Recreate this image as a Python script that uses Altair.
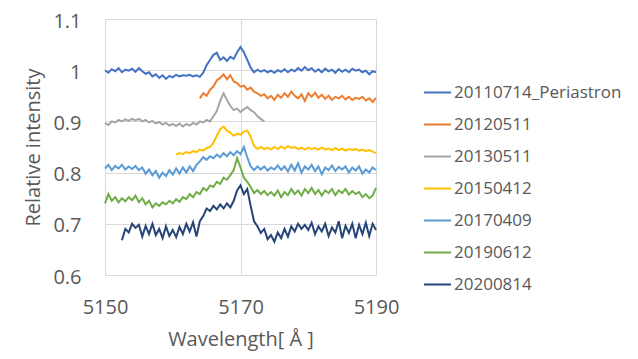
import altair as alt
import pandas as pd

series_names = ["20110714_Periastron", "20120511", "20130511", "20150412",
                "20170409", "20190612", "20200814"]
colors = ["#4472C4", "#ED7D31", "#A5A5A5", "#FFC000", "#5B9BD5", "#70AD47", "#264478"]
starts = [5150.0, 5164.0, 5150.0, 5160.5, 5150.0, 5150.0, 5152.5]
step = 0.5

s_2011 = [1.000, 0.995, 1.002, 0.998, 1.004, 0.996, 1.001, 0.999, 1.003, 0.997,
          1.004, 0.998, 0.993, 0.996, 0.988, 0.992, 0.985, 0.990, 0.983, 0.989,
          0.986, 0.991, 0.988, 0.990, 0.989, 0.991, 0.988, 0.990, 0.987, 0.995,
          1.010, 1.020, 1.030, 1.034, 1.020, 1.025, 1.018, 1.026, 1.022, 1.035,
          1.045, 1.035, 1.020, 1.005, 0.996, 1.001, 0.997, 1.000, 0.996, 0.999,
          0.995, 1.000, 0.997, 1.002, 0.996, 1.001, 0.998, 1.004, 0.999, 1.006,
          1.000, 1.004, 0.997, 1.002, 0.996, 1.003, 0.998, 1.001, 0.995, 1.002,
          0.997, 1.001, 0.996, 1.003, 0.999, 1.001, 0.996, 0.999, 0.992, 0.998,
          0.996]
s_2012 = [0.945, 0.955, 0.950, 0.962, 0.968, 0.980, 0.985, 0.992, 0.982, 0.990,
          0.978, 0.975, 0.968, 0.970, 0.962, 0.966, 0.958, 0.955, 0.950, 0.953,
          0.945, 0.950, 0.942, 0.952, 0.946, 0.955, 0.948, 0.958, 0.950, 0.945,
          0.953, 0.940, 0.955, 0.948, 0.956, 0.946, 0.952, 0.944, 0.950, 0.942,
          0.948, 0.945, 0.950, 0.943, 0.948, 0.942, 0.946, 0.944, 0.948, 0.941,
          0.945, 0.938, 0.946]
s_2013 = [0.897, 0.893, 0.900, 0.898, 0.903, 0.900, 0.904, 0.901, 0.905, 0.902,
          0.905, 0.900, 0.903, 0.898, 0.901, 0.896, 0.899, 0.894, 0.897, 0.892,
          0.895, 0.891, 0.896, 0.890, 0.895, 0.892, 0.897, 0.894, 0.900, 0.898,
          0.903, 0.900, 0.910, 0.920, 0.940, 0.955, 0.942, 0.930, 0.922, 0.925,
          0.918, 0.924, 0.928, 0.922, 0.918, 0.910, 0.905, 0.900]
s_2015 = [0.835, 0.838, 0.836, 0.840, 0.838, 0.842, 0.840, 0.845, 0.843, 0.848,
          0.850, 0.858, 0.872, 0.885, 0.890, 0.882, 0.878, 0.872, 0.876, 0.874,
          0.880, 0.882, 0.870, 0.852, 0.846, 0.850, 0.846, 0.849, 0.845, 0.850,
          0.846, 0.851, 0.847, 0.852, 0.848, 0.850, 0.846, 0.849, 0.845, 0.849,
          0.846, 0.848, 0.845, 0.849, 0.845, 0.847, 0.844, 0.848, 0.844, 0.847,
          0.843, 0.846, 0.844, 0.846, 0.843, 0.845, 0.842, 0.844, 0.841, 0.838]
s_2017 = [0.808, 0.815, 0.805, 0.813, 0.808, 0.815, 0.806, 0.812, 0.807, 0.813,
          0.805, 0.810, 0.798, 0.806, 0.795, 0.803, 0.790, 0.800, 0.793, 0.805,
          0.796, 0.808, 0.798, 0.810, 0.800, 0.812, 0.803, 0.815, 0.822, 0.830,
          0.825, 0.832, 0.828, 0.835, 0.830, 0.838, 0.832, 0.840, 0.834, 0.842,
          0.836, 0.850, 0.830, 0.812, 0.805, 0.812, 0.806, 0.812, 0.804, 0.810,
          0.806, 0.814, 0.805, 0.812, 0.802, 0.815, 0.804, 0.818, 0.800, 0.812,
          0.806, 0.815, 0.803, 0.812, 0.797, 0.810, 0.805, 0.814, 0.803, 0.811,
          0.806, 0.812, 0.800, 0.810, 0.804, 0.812, 0.798, 0.806, 0.800, 0.810,
          0.805]
s_2019 = [0.740, 0.758, 0.745, 0.752, 0.742, 0.750, 0.744, 0.752, 0.746, 0.755,
          0.742, 0.750, 0.738, 0.745, 0.732, 0.740, 0.735, 0.742, 0.738, 0.745,
          0.740, 0.748, 0.743, 0.752, 0.748, 0.758, 0.752, 0.762, 0.758, 0.770,
          0.765, 0.775, 0.772, 0.782, 0.778, 0.790, 0.786, 0.795, 0.805, 0.828,
          0.810, 0.790, 0.782, 0.772, 0.760, 0.766, 0.758, 0.764, 0.756, 0.762,
          0.755, 0.765, 0.752, 0.762, 0.756, 0.768, 0.758, 0.765, 0.755, 0.768,
          0.760, 0.770, 0.758, 0.766, 0.755, 0.765, 0.760, 0.768, 0.756, 0.765,
          0.760, 0.768, 0.757, 0.764, 0.758, 0.762, 0.752, 0.758, 0.750, 0.755,
          0.770]
s_2020 = [0.668, 0.690, 0.683, 0.700, 0.692, 0.698, 0.675, 0.696, 0.680, 0.700,
          0.678, 0.690, 0.672, 0.695, 0.676, 0.688, 0.674, 0.694, 0.680, 0.700,
          0.685, 0.703, 0.675, 0.705, 0.715, 0.730, 0.725, 0.735, 0.728, 0.738,
          0.730, 0.740, 0.732, 0.745, 0.765, 0.775, 0.758, 0.768, 0.735, 0.705,
          0.695, 0.682, 0.690, 0.670, 0.678, 0.665, 0.683, 0.672, 0.690, 0.675,
          0.695, 0.685, 0.700, 0.690, 0.698, 0.688, 0.702, 0.680, 0.695, 0.685,
          0.700, 0.676, 0.693, 0.683, 0.705, 0.672, 0.696, 0.682, 0.700, 0.672,
          0.698, 0.680, 0.702, 0.676, 0.700, 0.688]

all_values = [s_2011, s_2012, s_2013, s_2015, s_2017, s_2019, s_2020]

x_ticks = [5150, 5170, 5190]
y_ticks = [0.6, 0.7, 0.8, 0.9, 1.0, 1.1]

rows = []
for name, start, vals in zip(series_names, starts, all_values):
    for i, v in enumerate(vals):
        rows.append({"series": name, "wl": start + i * step, "ri": v})
df = pd.DataFrame(rows)

FONT = "Open Sans"
TXT = "#595959"
GRID = "#D9D9D9"

chart = alt.Chart(df).mark_line(strokeWidth=2).encode(
    x=alt.X("wl:Q",
            scale=alt.Scale(domain=[5150, 5190], nice=False, zero=False),
            axis=alt.Axis(values=x_ticks, format="d", title="Wavelength[ Å ]",
                          grid=True, gridColor=GRID, domain=False, ticks=False,
                          labelFlush=False,
                          labelFont=FONT, labelFontSize=20, labelColor=TXT,
                          labelPadding=22, titleFont=FONT, titleFontSize=20,
                          titleColor=TXT, titleFontWeight="normal",
                          titlePadding=12)),
    y=alt.Y("ri:Q",
            scale=alt.Scale(domain=[0.6, 1.1], nice=False, zero=False),
            axis=alt.Axis(values=y_ticks, format="~g", title="Relative intensity",
                          grid=True, gridColor=GRID, domain=False, ticks=False,
                          labelFlush=False,
                          labelFont=FONT, labelFontSize=20, labelColor=TXT,
                          labelPadding=24, labelOffset=2, titleFont=FONT,
                          titleFontSize=20, titleColor=TXT,
                          titleFontWeight="normal", titlePadding=9)),
    color=alt.Color("series:N",
                    scale=alt.Scale(domain=series_names, range=colors),
                    legend=alt.Legend(orient="none", legendX=318, legendY=59,
                                      title=None, symbolType="stroke",
                                      symbolSize=729, symbolStrokeWidth=2,
                                      labelFont=FONT, labelFontSize=17,
                                      labelColor=TXT, labelOffset=2,
                                      labelLimit=0, rowPadding=9, padding=0)),
).properties(
    width=271, height=256,
    autosize=alt.AutoSizeParams(type="none"),
    padding={"left": 97, "top": 11, "right": 254, "bottom": 76},
).configure_view(stroke=None)

chart.save("out.html", embed_options={"renderer": "svg", "actions": False})
